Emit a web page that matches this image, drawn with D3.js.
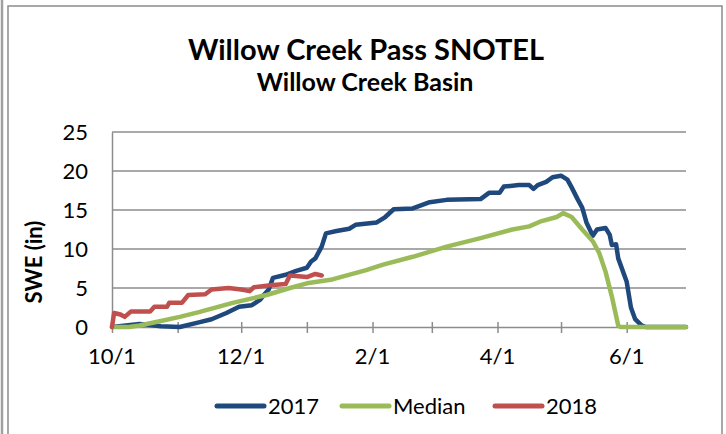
<!DOCTYPE html>
<html><head><meta charset="utf-8">
<script src="https://cdn.jsdelivr.net/npm/d3@7"></script>
<style>html,body{margin:0;padding:0;background:#fff;}svg{display:block;}</style>
</head><body>
<svg id="c" width="726" height="434"></svg>
<script>
// ---- data (water-year dates, SWE inches) ----
const title = "Willow Creek Pass SNOTEL";
const subtitle = "Willow Creek Basin";
const yTitle = "SWE (in)";
const seriesNames = ["2017", "Median", "2018"];
const yTicks = [0, 5, 10, 15, 20, 25];
const xTickLabels = ["10/1", "12/1", "2/1", "4/1", "6/1"];
const xMinorTicks = ["10/1","11/1","12/1","1/1","2/1","3/1","4/1","5/1","6/1"];
const xDomain = ["10/1", "6/29"];

const dates2017 = ["10/1","10/14","10/24","11/2","11/11","11/17","11/24","11/30","12/6","12/10","12/12","12/14","12/16","12/22","12/27","1/1","1/3","1/5","1/8","1/10","1/15","1/21","1/24","2/3","2/7","2/11","2/20","2/28","3/8","3/24","3/28","4/2","4/4","4/11","4/16","4/18","4/20","4/24","4/27","5/1","5/4","5/6","5/9","5/11","5/13","5/16","5/18","5/22","5/24","5/25","5/27","5/28","6/1","6/3","6/5","6/8","6/10","6/29"];
const swe2017 = [0.0,0.4,0.1,0.0,0.6,1.0,1.8,2.6,2.8,3.5,4.2,4.8,6.3,6.7,7.2,7.6,8.4,8.8,10.3,12.0,12.3,12.6,13.1,13.4,14.1,15.1,15.2,16.0,16.3,16.4,17.2,17.2,18.0,18.2,18.2,17.7,18.2,18.6,19.2,19.4,18.9,17.9,16.3,15.3,13.4,11.7,12.5,12.7,11.8,10.5,10.6,8.8,5.8,2.5,1.0,0.2,0.0,0.0];

const datesMedian = ["10/1","10/9","10/14","10/23","11/2","11/11","11/27","12/13","12/24","1/1","1/13","1/29","2/6","2/20","3/8","3/24","4/8","4/16","4/21","4/29","5/2","5/6","5/11","5/16","5/19","5/22","5/25","5/28","5/29","6/29"];
const sweMedian = [0.0,0.0,0.2,0.7,1.3,1.9,3.1,4.1,5.0,5.6,6.1,7.3,8.0,9.0,10.3,11.4,12.5,12.9,13.5,14.1,14.6,14.1,12.5,11.0,9.5,7.1,3.9,0.2,0.0,0.0];

const dates2018 = ["10/1","10/2","10/5","10/7","10/10","10/19","10/21","10/27","10/28","11/3","11/6","11/14","11/17","11/25","12/1","12/5","12/7","12/16","12/22","12/24","1/1","1/5","1/8"];
const swe2018 = [0.0,1.8,1.6,1.3,2.0,2.0,2.6,2.6,3.1,3.1,4.1,4.2,4.8,5.0,4.8,4.6,5.1,5.4,5.5,6.6,6.4,6.8,6.6];

const colors = ["#1f497d", "#9bbb59", "#c0504d"];

// ---- helpers ----
function wy(md) { const [m, d] = md.split("/").map(Number); return new Date(m >= 10 ? 2016 : 2017, m - 1, d); }
const FONT = "Lato, 'Open Sans', sans-serif";

const svg = d3.select("#c");
svg.append("line").attr("x1", 2).attr("x2", 2).attr("y1", 0).attr("y2", 434)
  .attr("stroke", "#a0a0a0").attr("stroke-width", 2.5);
svg.append("rect").attr("x", 8).attr("y", 6).attr("width", 714).attr("height", 440)
  .attr("fill", "#fff").attr("stroke", "#8c8c8c").attr("stroke-width", 1.5);

const x = d3.scaleTime().domain(xDomain.map(wy)).range([112, 686]);
const y = d3.scaleLinear().domain([0, 25]).range([327, 132]);

// gridlines
svg.append("g").selectAll("line").data(yTicks.filter(v => v > 0)).join("line")
  .attr("x1", x.range()[0]).attr("x2", x.range()[1])
  .attr("y1", d => y(d)).attr("y2", d => y(d))
  .attr("stroke", "#8c8c8c").attr("stroke-width", 1.5);

// y axis
const yAxis = svg.append("g").attr("transform", `translate(${x.range()[0]},0)`)
  .call(d3.axisLeft(y).tickValues(yTicks).tickSize(0).tickPadding(24));
yAxis.select(".domain").attr("stroke", "#8c8c8c").attr("stroke-width", 1.5);
yAxis.selectAll("text").attr("font-family", FONT).attr("font-size", 22).attr("fill", "#000");

// x axis
const xAxis = svg.append("g").attr("transform", `translate(0,${y(0)})`)
  .call(d3.axisBottom(x).tickValues(xMinorTicks.map(wy)).tickSizeInner(6).tickSizeOuter(0).tickFormat(""));
xAxis.select(".domain").attr("stroke", "#8c8c8c").attr("stroke-width", 1.5);
xAxis.selectAll(".tick line").attr("stroke", "#8c8c8c").attr("stroke-width", 1.5).attr("y1", -5);
svg.append("g").selectAll("text").data(xTickLabels).join("text")
  .attr("x", d => x(wy(d))).attr("y", 364).attr("text-anchor", "middle")
  .attr("font-family", FONT).attr("font-size", 22).attr("fill", "#000").text(d => d);

// y title
svg.append("text").attr("transform", "translate(42,262) rotate(-90)").attr("text-anchor", "middle")
  .attr("font-family", FONT).attr("font-weight", "bold").attr("font-size", 22).attr("fill", "#000").text(yTitle);

// titles
svg.append("text").attr("x", 366).attr("y", 60).attr("text-anchor", "middle")
  .attr("font-family", FONT).attr("font-weight", "bold").attr("font-size", 29).attr("fill", "#000").text(title);
svg.append("text").attr("x", 365).attr("y", 91).attr("text-anchor", "middle")
  .attr("font-family", FONT).attr("font-weight", "bold").attr("font-size", 25).attr("fill", "#000").text(subtitle);

// lines
const line = d3.line().x(d => x(d[0])).y(d => y(d[1])).curve(d3.curveLinear);
const series = [
  dates2017.map((d, i) => [wy(d), swe2017[i]]),
  datesMedian.map((d, i) => [wy(d), sweMedian[i]]),
  dates2018.map((d, i) => [wy(d), swe2018[i]])
];
svg.append("g").selectAll("path").data(series).join("path")
  .attr("d", line).attr("fill", "none")
  .attr("stroke", (d, i) => colors[i]).attr("stroke-width", 4.5)
  .attr("stroke-linejoin", "round").attr("stroke-linecap", "round");

// legend
const legX = [215, 340, 493];
const lg = svg.append("g").selectAll("g").data(seriesNames).join("g")
  .attr("transform", (d, i) => `translate(${legX[i]},406)`);
lg.append("line").attr("x1", 2).attr("x2", 49).attr("y1", 0).attr("y2", 0)
  .attr("stroke", (d, i) => colors[i]).attr("stroke-width", 5).attr("stroke-linecap", "round");
lg.append("text").attr("x", 53).attr("y", 8).attr("font-family", FONT).attr("font-size", 22)
  .attr("fill", "#000").text(d => d);
</script>
</body></html>
